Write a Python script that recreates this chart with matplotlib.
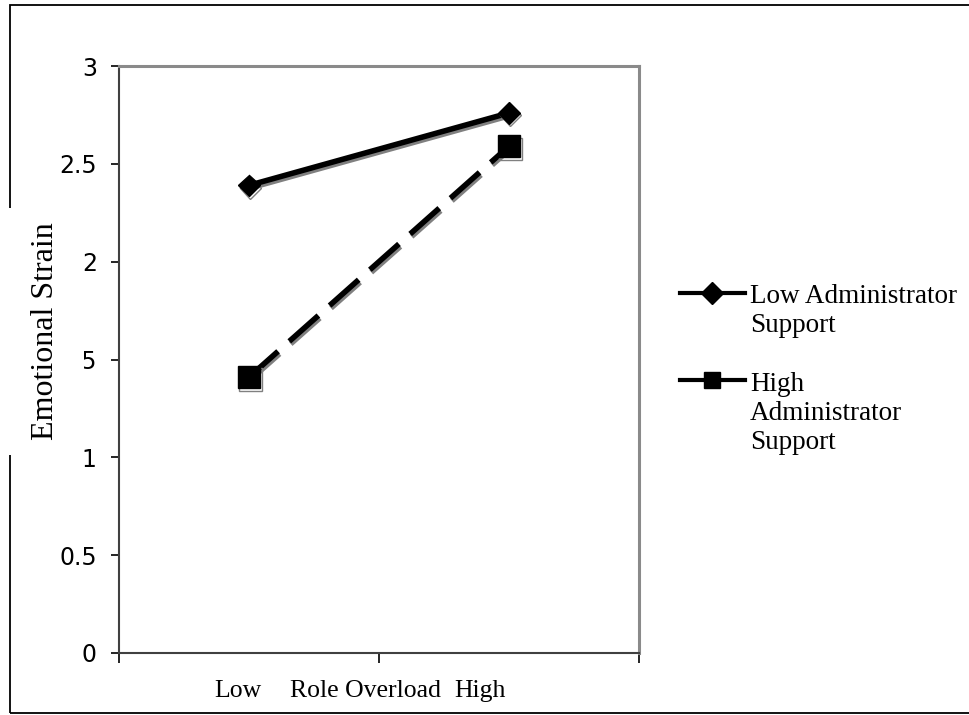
import numpy as np
import matplotlib
matplotlib.use("Agg")
import matplotlib.pyplot as plt
import matplotlib.patheffects as pe
from matplotlib.lines import Line2D
from matplotlib.patches import Rectangle
from matplotlib.ticker import FuncFormatter

# data
categories = ["Low", "High"]
low_support = [2.39, 2.76]
high_support = [1.41, 2.59]
series_names = ["Low Administrator\nSupport", "High\nAdministrator\nSupport"]
y_ticks = [0, 0.5, 1, 1.5, 2, 2.5, 3]

W, H = 969, 715
serif = "Liberation Serif"
sans = "DejaVu Sans"


def fx(x):
    return x / W


def fy(y):
    return 1 - y / H


fig = plt.figure(figsize=(W / 100, H / 100), dpi=100)
fig.patch.set_facecolor("white")

# chart area (pixels: left 119, right 639, top 66, bottom 653)
ax = fig.add_axes([fx(119), fy(653), (639 - 119) / W, (653 - 66) / H])

xs = np.arange(len(categories)) + 0.5
shadow = [pe.SimpleLineShadow(offset=(1, -1.8), shadow_color="#808080", alpha=1),
          pe.Normal()]

ax.plot(xs, low_support, color="black", lw=4, marker="D", ms=11,
        solid_capstyle="butt", path_effects=shadow, clip_on=False, zorder=3)
ax.plot(xs, high_support, color="black", lw=4, marker="s", ms=16,
        dashes=(7, 2.7), dash_capstyle="butt", path_effects=shadow,
        clip_on=False, zorder=3)

ax.set_xlim(0, len(categories))
ax.set_ylim(0, 3)
ax.set_xticks([0, 1, 2])
ax.set_xticklabels([])
ax.set_yticks(y_ticks)
ax.yaxis.set_major_formatter(FuncFormatter(lambda v, p: "%g" % v))
ax.tick_params(axis="y", direction="out", length=6, width=1.2, pad=10,
               labelsize=17, colors="black")
ax.tick_params(axis="x", direction="out", length=7, width=1.2)
for lab in ax.get_yticklabels():
    lab.set_fontfamily(sans)

ax.spines["left"].set_color("#404040")
ax.spines["bottom"].set_color("#404040")
ax.spines["left"].set_linewidth(1.5)
ax.spines["bottom"].set_linewidth(1.5)
ax.spines["top"].set_color("#8a8a8a")
ax.spines["right"].set_color("#8a8a8a")
ax.spines["top"].set_linewidth(2.2)
ax.spines["right"].set_linewidth(2.2)

# x axis texts
fig.text(fx(238), fy(697), categories[0], ha="center", va="baseline",
         family=serif, fontsize=18.5)
fig.text(fx(365), fy(697), "Role Overload", ha="center", va="baseline",
         family=serif, fontsize=18.5)
fig.text(fx(480), fy(697), categories[1], ha="center", va="baseline",
         family=serif, fontsize=18.5)

# outer border of the chart object
fig.add_artist(Rectangle((fx(10), fy(713)), fx(980) - fx(10), fy(5) - fy(713),
                         transform=fig.transFigure, fill=False,
                         ec="black", lw=1.3, zorder=1))

# y label sits on a white box that hides part of the border
fig.add_artist(Rectangle((0, fy(455)), fx(84), fy(208) - fy(455),
                         transform=fig.transFigure, fc="white", ec="none",
                         zorder=5))
fig.text(fx(46), fy(331), "Emotional Strain", rotation=90, ha="center",
         va="center", family=serif, fontsize=23, zorder=6)

# legend
key_rows = [293, 380]
key_markers = [("D", 11), ("s", 11)]
for name, ky, (mk, ms) in zip(series_names, key_rows, key_markers):
    fig.add_artist(Line2D([fx(680), fx(745)], [fy(ky), fy(ky)],
                          transform=fig.transFigure, color="black", lw=3))
    fig.add_artist(Line2D([fx(712)], [fy(ky)], transform=fig.transFigure,
                          color="black", marker=mk, ms=ms, lw=0))
    n_lines = name.count("\n")
    fig.text(fx(750), fy(ky + 9 + 30 * n_lines), name, ha="left",
             va="baseline", family=serif, fontsize=19.5, linespacing=1.2)

fig.savefig("out.png", dpi=100)
